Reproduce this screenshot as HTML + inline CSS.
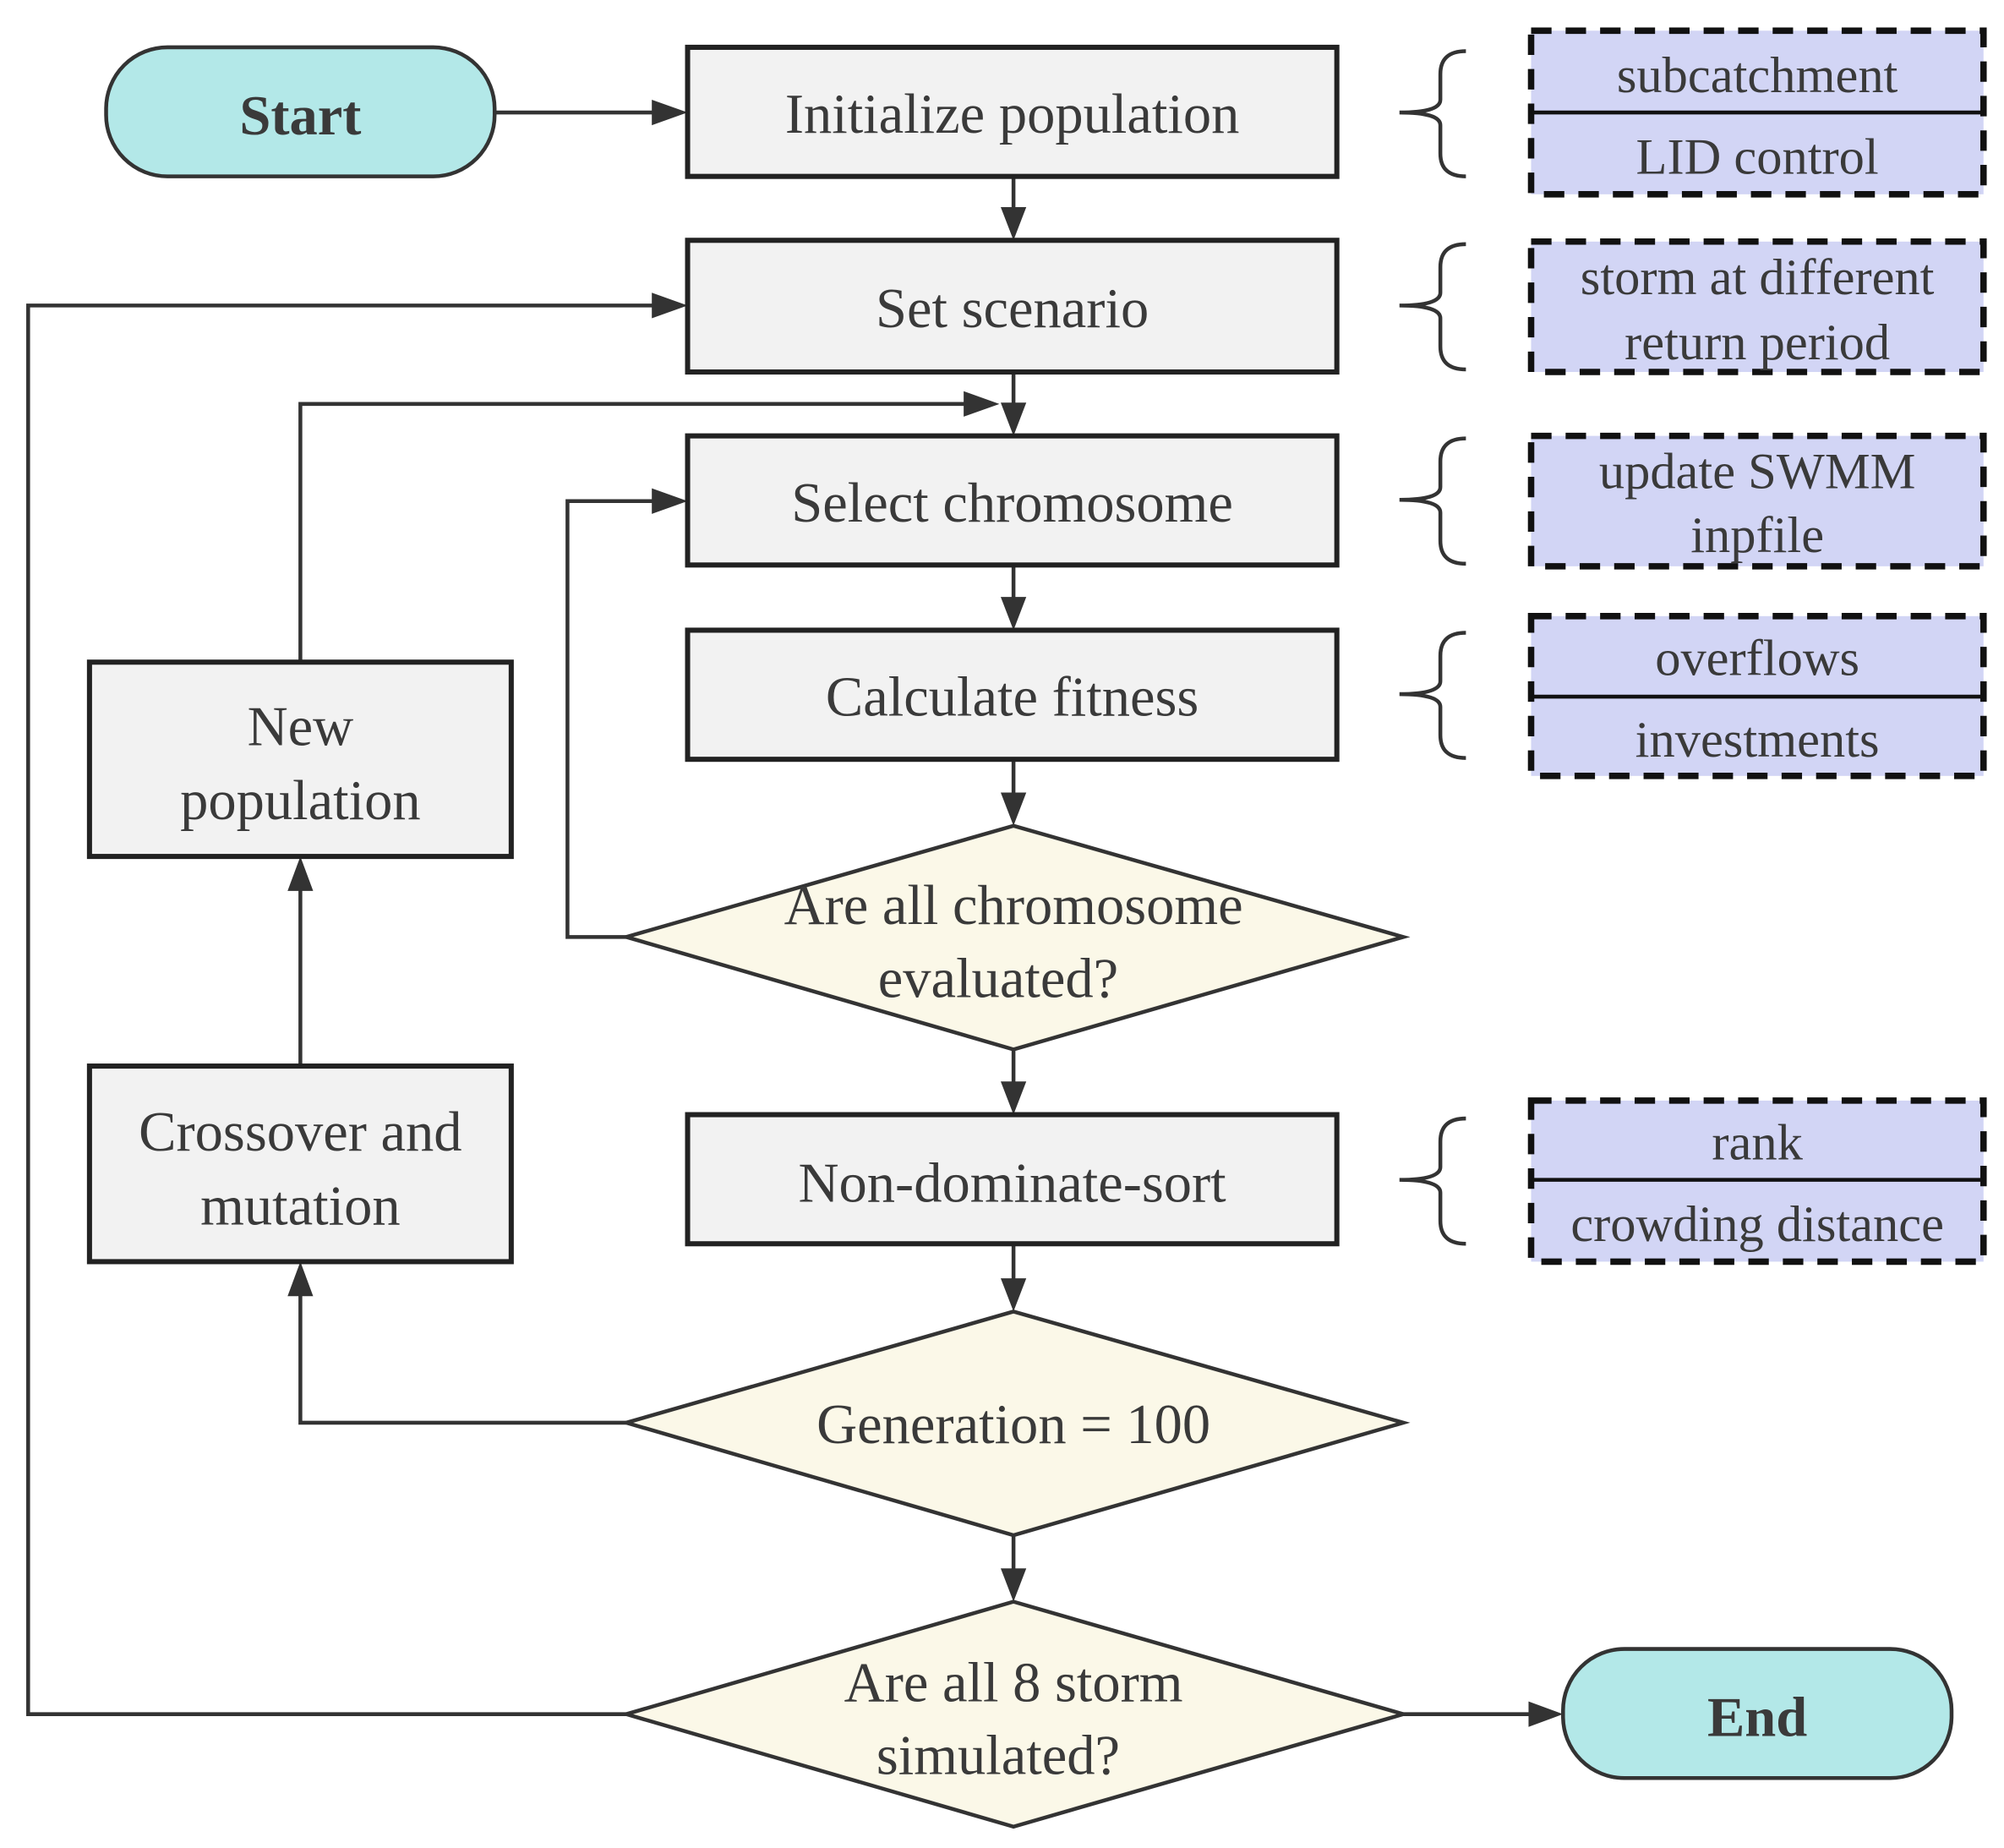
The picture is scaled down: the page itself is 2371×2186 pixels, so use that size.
<!DOCTYPE html>
<html><head><meta charset="utf-8"><style>
html,body{margin:0;padding:0;background:#fff;}
svg{display:block;}
text{font-family:"Liberation Serif",serif;fill:#3a3a3a;text-anchor:middle;}
</style></head><body>
<svg width="2371" height="2186" viewBox="0 0 1568 1445.7" xmlns="http://www.w3.org/2000/svg">
<g stroke="#333" stroke-width="3" fill="none">
<line x1="387" y1="88" x2="512" y2="88"/>
<line x1="793" y1="138" x2="793" y2="166"/>
<polyline points="490,1341 22,1341 22,239 512,239"/>
<line x1="793" y1="291" x2="793" y2="318"/>
<polyline points="235,518 235,316 756,316"/>
<polyline points="490,733 444,733 444,392 512,392"/>
<line x1="793" y1="442" x2="793" y2="470"/>
<line x1="793" y1="594" x2="793" y2="622"/>
<line x1="793" y1="821" x2="793" y2="849"/>
<line x1="793" y1="973" x2="793" y2="1002"/>
<line x1="793" y1="1201" x2="793" y2="1229"/>
<polyline points="490,1113 235,1113 235,1012"/>
<line x1="235" y1="834" x2="235" y2="695"/>
<line x1="1098" y1="1341" x2="1198" y2="1341"/>
</g>
<g fill="#333">
<polygon points="538,88 510,78 510,98"/>
<polygon points="793,188 783,162 803,162"/>
<polygon points="538,239 510,229 510,249"/>
<polygon points="793,341 783,315 803,315"/>
<polygon points="782,316 754,306 754,326"/>
<polygon points="538,392 510,382 510,402"/>
<polygon points="793,493 783,467 803,467"/>
<polygon points="793,646 783,620 803,620"/>
<polygon points="793,872 783,846 803,846"/>
<polygon points="793,1026 783,1000 803,1000"/>
<polygon points="793,1253 783,1227 803,1227"/>
<polygon points="235,987 225,1014 245,1014"/>
<polygon points="235,670 225,697 245,697"/>
<polygon points="1223,1341 1196,1331 1196,1351"/>
</g>
<rect x="83" y="37" width="304" height="101" rx="48" fill="#b3e8e8" stroke="#333" stroke-width="3"/>
<text x="235" y="105" font-size="44" font-weight="bold">Start</text>
<rect x="1223" y="1290" width="304" height="101" rx="48" fill="#b3e8e8" stroke="#333" stroke-width="3"/>
<text x="1375" y="1358" font-size="44" font-weight="bold">End</text>
<g fill="#f2f2f2" stroke="#222" stroke-width="4">
<rect x="538" y="37" width="508" height="101"/>
<rect x="538" y="188" width="508" height="103"/>
<rect x="538" y="341" width="508" height="101"/>
<rect x="538" y="493" width="508" height="101"/>
<rect x="538" y="872" width="508" height="101"/>
<rect x="70" y="518" width="330" height="152"/>
<rect x="70" y="834" width="330" height="153"/>
</g>
<g font-size="44">
<text x="792" y="104">Initialize population</text>
<text x="792" y="256">Set scenario</text>
<text x="792" y="408">Select chromosome</text>
<text x="792" y="560">Calculate fitness</text>
<text x="792" y="940">Non-dominate-sort</text>
<text x="235" y="583">New</text>
<text x="235" y="641">population</text>
<text x="235" y="900">Crossover and</text>
<text x="235" y="958">mutation</text>
</g>
<g fill="#fbf8e8" stroke="#333" stroke-width="3">
<polygon points="793,646 1098,733 793,821 490,733"/>
<polygon points="793,1026 1098,1113 793,1201 490,1113"/>
<polygon points="793,1253 1098,1341 793,1429 490,1341"/>
</g>
<g font-size="44">
<text x="793" y="723">Are all chromosome</text>
<text x="781" y="780">evaluated?</text>
<text x="793" y="1129">Generation = 100</text>
<text x="793" y="1331">Are all 8 storm</text>
<text x="781" y="1388">simulated?</text>
</g>
<g stroke="#333" stroke-width="3" fill="none">
<path d="M1147,40 Q1127,40 1127,58 L1127,78 Q1127,88 1095,88 Q1127,88 1127,98 L1127,120 Q1127,138 1147,138"/>
<path d="M1147,191 Q1127,191 1127,209 L1127,229 Q1127,239 1095,239 Q1127,239 1127,249 L1127,271 Q1127,289 1147,289"/>
<path d="M1147,343 Q1127,343 1127,361 L1127,381 Q1127,391 1095,391 Q1127,391 1127,401 L1127,423 Q1127,441 1147,441"/>
<path d="M1147,495 Q1127,495 1127,513 L1127,533 Q1127,543 1095,543 Q1127,543 1127,553 L1127,575 Q1127,593 1147,593"/>
<path d="M1147,875 Q1127,875 1127,893 L1127,913 Q1127,923 1095,923 Q1127,923 1127,933 L1127,955 Q1127,973 1147,973"/>
</g>
<g fill="#d2d5f5" stroke="#111" stroke-width="5" stroke-dasharray="16,11">
<rect x="1198" y="24" width="354" height="128"/>
<rect x="1198" y="189" width="354" height="102"/>
<rect x="1198" y="341" width="354" height="102"/>
<rect x="1198" y="482" width="354" height="125"/>
<rect x="1198" y="861" width="354" height="126"/>
</g>
<g stroke="#111" stroke-width="3">
<line x1="1198" y1="88" x2="1552" y2="88"/>
<line x1="1198" y1="545" x2="1552" y2="545"/>
<line x1="1198" y1="923" x2="1552" y2="923"/>
</g>
<g font-size="40">
<text x="1375" y="72">subcatchment</text>
<text x="1375" y="136">LID control</text>
<text x="1375" y="230">storm at different</text>
<text x="1375" y="281">return period</text>
<text x="1375" y="382">update SWMM</text>
<text x="1375" y="432">inpfile</text>
<text x="1375" y="528">overflows</text>
<text x="1375" y="592">investments</text>
<text x="1375" y="907">rank</text>
<text x="1375" y="971">crowding distance</text>
</g>
</svg>
</body></html>
